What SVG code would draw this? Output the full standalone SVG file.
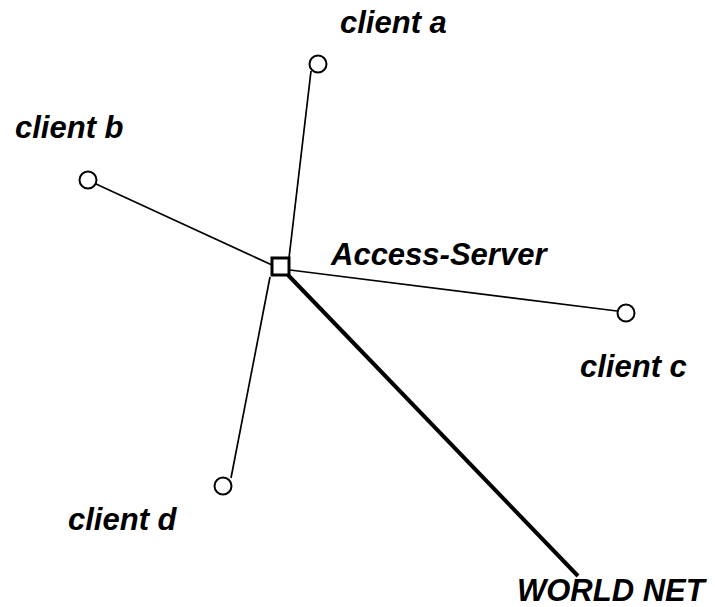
<svg xmlns="http://www.w3.org/2000/svg" width="715" height="607" viewBox="0 0 715 607">
  <style>
    .label { font-family: "Liberation Sans", Arial, sans-serif; font-size: 31px; font-weight: bold; font-style: italic; fill: #000; }
    .link { stroke: #000; stroke-width: 1.7; fill: none; }
    .trunk { stroke: #000; stroke-width: 4; fill: none; }
    .client { fill: #fff; stroke: #000; stroke-width: 2; }
    .server { fill: #fff; stroke: #000; stroke-width: 3; }
  </style>
  <rect width="715" height="607" fill="#fff"/>

  <!-- connectors -->
  <g id="connectors">
    <line class="link" x1="311" y1="71" x2="289" y2="258"/>
    <line class="link" x1="96" y1="184" x2="272" y2="265"/>
    <line class="link" x1="290" y1="270" x2="617" y2="311"/>
    <line class="link" x1="231" y1="478" x2="270" y2="277"/>
    <line class="trunk" x1="288" y1="275" x2="578" y2="576"/>
  </g>

  <g id="access-server">
    <rect class="server" x="272" y="258" width="17" height="17"/>
    <text class="label" x="331" y="265">Access-Server</text>
  </g>

  <g id="client-a">
    <circle class="client" cx="318" cy="64" r="8.5"/>
    <text class="label" x="340" y="33">client a</text>
  </g>

  <g id="client-b">
    <circle class="client" cx="88" cy="180" r="8.5"/>
    <text class="label" x="15" y="138">client b</text>
  </g>

  <g id="client-c">
    <circle class="client" cx="626" cy="313" r="8.5"/>
    <text class="label" x="580" y="377">client c</text>
  </g>

  <g id="client-d">
    <circle class="client" cx="223" cy="486" r="8.5"/>
    <text class="label" x="68" y="530">client d</text>
  </g>

  <g id="world-net">
    <text class="label" x="517" y="601">WORLD NET</text>
  </g>
</svg>
